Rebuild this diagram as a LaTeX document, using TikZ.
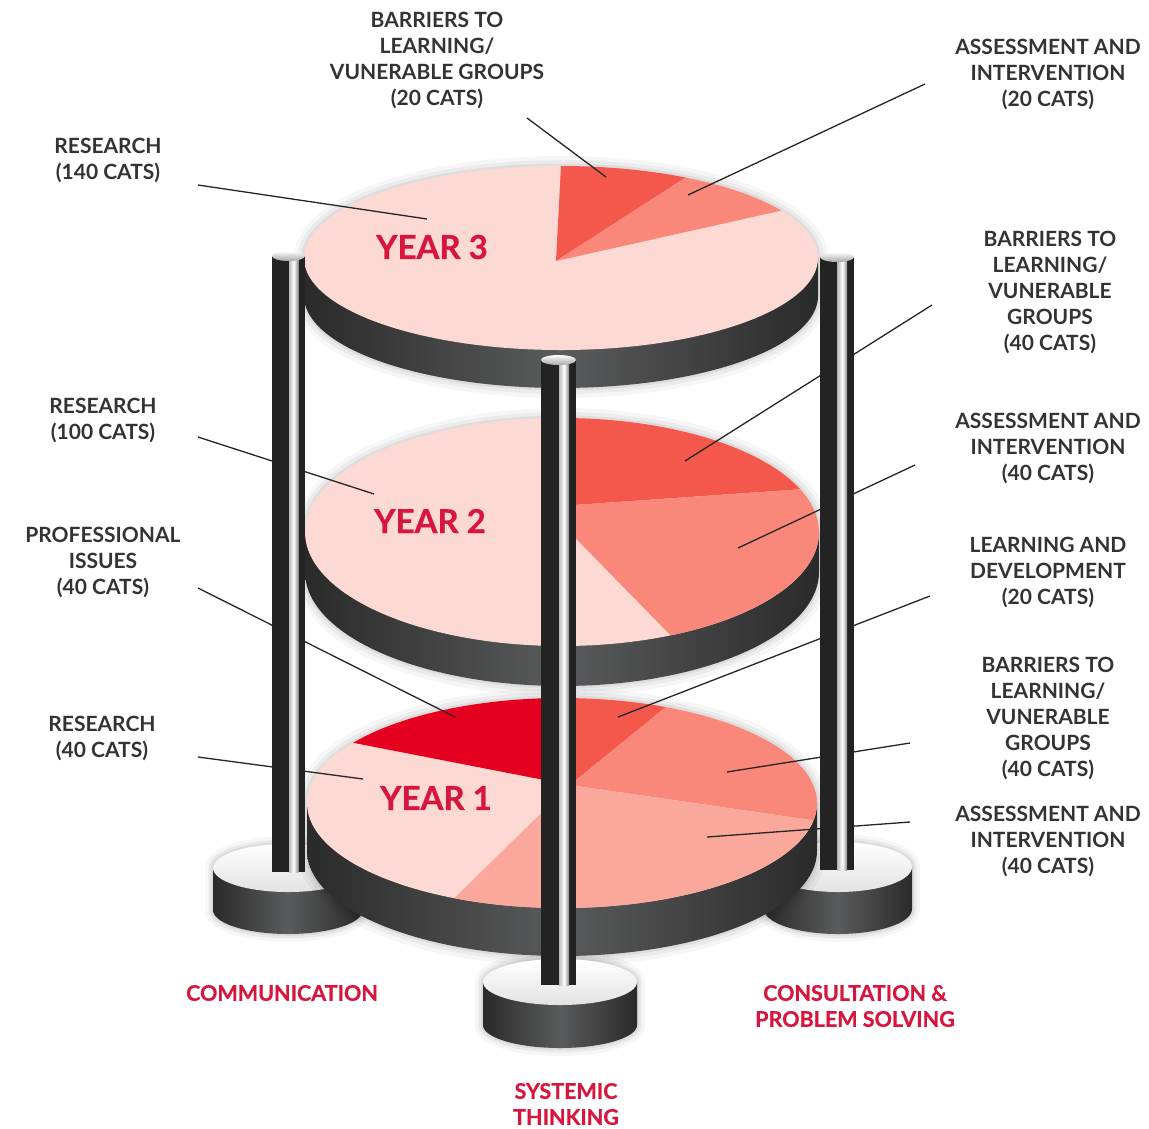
\documentclass[tikz,border=0pt]{standalone}
\usepackage{fontspec}
\setmainfont{Lato}
\usetikzlibrary{calc}
\definecolor{pinkL}{HTML}{FDD9D3}
\definecolor{redS}{HTML}{F4574B}
\definecolor{salmon}{HTML}{F9887A}
\definecolor{peach}{HTML}{FBA89C}
\definecolor{crimson}{HTML}{E5001F}
\definecolor{txtred}{HTML}{D8153C}
\definecolor{txtgray}{HTML}{333333}
\definecolor{bandD}{HTML}{2A2A2A}
\definecolor{bandM}{HTML}{5A5B5C}
\definecolor{pilD}{HTML}{232323}
% disc: cx cy rx ry thickness
\newcommand\mydisc[5]{%
  \foreach \w/\o in {20/0.035,12/0.045,5/0.06}{%
    \draw[line width=\w pt, black, opacity=\o, line join=round]
      plot[domain=0:180,samples=90] ({#1-#3*cos(\x)},{#2-#4*sin(\x)})
      -- plot[domain=0:180,samples=90] ({#1+#3*cos(\x)},{#2+#5+#4*sin(\x)}) -- cycle;}
  \shade[left color=bandD, right color=bandD, middle color=bandM]
    (#1-#3,#2) -- plot[domain=0:180,samples=90] ({#1-#3*cos(\x)},{#2+#5+#4*sin(\x)})
    -- (#1+#3,#2) -- cycle;
  \fill[pinkL] (#1,#2) ellipse[x radius=#3, y radius=#4];
}
% slice: colour cx cy rx ry apexx apexy t1 t2
\newcommand\myslice[9]{%
  \fill[#1] (#6,#7) -- plot[domain=#8:#9,samples=60] ({#2+#4*cos(\x)},{#3+#5*sin(\x)}) -- cycle;}
% base: cx cy rx ry h
\newcommand\mybase[5]{%
  \foreach \w/\o in {16/0.035,9/0.05,4/0.06}{%
    \draw[line width=\w pt, black, opacity=\o, line join=round]
      plot[domain=0:180,samples=60] ({#1-#3*cos(\x)},{#2-#4*sin(\x)})
      -- plot[domain=0:180,samples=60] ({#1+#3*cos(\x)},{#2+#5+#4*sin(\x)}) -- cycle;}
  \shade[left color=bandD, right color=bandD, middle color=bandM]
    (#1-#3,#2) -- plot[domain=0:180,samples=60] ({#1-#3*cos(\x)},{#2+#5+#4*sin(\x)})
    -- (#1+#3,#2) -- cycle;
  \shade[top color=white, bottom color=gray!22] (#1,#2) ellipse[x radius=#3, y radius=#4];
}
% pillar: x1 x2 top bottom
\newcommand\mypillar[4]{%
  \fill[pilD] (#1,#3) rectangle (#2,#4);
  \shade[left color=pilD!30, right color=pilD!55, middle color=white]
    ({#1+0.52*(#2-#1)},#3) rectangle ({#1+0.80*(#2-#1)},#4);
  \shade[top color=white, bottom color=gray!70] ({(#1+#2)/2},#3) ellipse[x radius={(#2-#1)/2}, y radius=5];
}
\tikzset{
  lab/.style={align=center, text=txtgray, font=\fontsize{21}{26}\selectfont\bfseries, inner sep=0pt},
  redlab/.style={align=center, text=txtred, font=\fontsize{21.5}{26}\selectfont\bfseries\addfontfeatures{FakeBold=0.6}, inner sep=0pt},
  yearlab/.style={text=txtred, font=\fontsize{33}{36}\selectfont\bfseries\addfontfeatures{FakeBold=0.6}, inner sep=0pt},
  leader/.style={draw=black!85, line width=1.3pt},
}
\begin{document}
\begin{tikzpicture}[x=1pt,y=-1pt]
\useasboundingbox[fill=white] (0,0) rectangle (1149,1128);

% side bases
\mybase{288}{868}{75}{24}{42}
\mybase{838}{867}{74}{25}{42}

% Year 3 disc
\mydisc{561}{258}{257}{92}{38}
\myslice{redS}{561}{258}{257}{92}{556}{261}{-90}{-61}
\myslice{salmon}{561}{258}{257}{92}{556}{261}{-61}{-31}
\node[yearlab] (y3) at (432,247) {YEAR 3};

% Year 2 disc
\mydisc{562}{532}{257}{114}{40}
\myslice{redS}{562}{532}{257}{114}{545}{507}{-90}{-22}
\myslice{salmon}{562}{532}{257}{114}{545}{507}{-22}{65}
\node[yearlab] (y2) at (430,521) {YEAR 2};

% Year 1 disc
\mydisc{562}{803}{255}{105}{48}
\myslice{crimson}{562}{803}{255}{105}{570}{785}{-145}{-92}
\myslice{redS}{562}{803}{255}{105}{570}{785}{-92}{-66}
\myslice{salmon}{562}{803}{255}{105}{570}{785}{-66}{9.5}
\myslice{peach}{562}{803}{255}{105}{570}{785}{9.5}{115}
\node[yearlab] (y1) at (436,798) {YEAR 1};

% leader line end points
\coordinate (r140s) at (198,185);  \coordinate (r140e) at (427,219);
\coordinate (b20s)  at (527,118);  \coordinate (b20e)  at (606,177);
\coordinate (a20s)  at (925,84);   \coordinate (a20e)  at (688,195);
\coordinate (r100s) at (198,437);  \coordinate (r100e) at (374,494);
\coordinate (p40s)  at (198,588);  \coordinate (p40e)  at (455,717);
\coordinate (r40s)  at (198,757);  \coordinate (r40e)  at (363,779);
\coordinate (b40as) at (932,305);  \coordinate (b40ae) at (685,461);
\coordinate (a40as) at (915,465);  \coordinate (a40ae) at (738,548);
\coordinate (l20s)  at (930,596);  \coordinate (l20e)  at (618,717);
\coordinate (b40bs) at (910,743);  \coordinate (b40be) at (727,772);
\coordinate (a40bs) at (910,822);  \coordinate (a40be) at (707,837);

\draw[leader] (r140s) -- (r140e);
\draw[leader] (b20s) -- (b20e);
\draw[leader] (a20s) -- (a20e);
\draw[leader] (r100s) -- (r100e);
\draw[leader] (p40s) -- (p40e);
\draw[leader] (r40s) -- (r40e);
\draw[leader] (b40as) -- (b40ae);
\draw[leader] (a40as) -- (a40ae);
\draw[leader] (l20s) -- (l20e);
\draw[leader] (b40bs) -- (b40be);
\draw[leader] (a40bs) -- (a40be);

% side pillars
\mypillar{272}{305}{256}{872}
\mypillar{820}{854}{257}{870}

% middle base and pillar
\mybase{560}{982}{77}{23}{43}
\mypillar{541}{576}{360}{985}

% labels
\node[lab] (tb20) at (437,60) {BARRIERS TO\\LEARNING/\\VUNERABLE GROUPS\\(20 CATS)};
\node[lab] (tr140) at (108,160) {RESEARCH\\(140 CATS)};
\node[lab] (ta20) at (1048,74) {ASSESSMENT AND\\INTERVENTION\\(20 CATS)};
\node[lab] (tb40a) at (1050,292) {BARRIERS TO\\LEARNING/\\VUNERABLE\\GROUPS\\(40 CATS)};
\node[lab] (tr100) at (103,420) {RESEARCH\\(100 CATS)};
\node[lab] (ta40a) at (1048,448) {ASSESSMENT AND\\INTERVENTION\\(40 CATS)};
\node[lab] (tp40) at (103,562) {PROFESSIONAL\\ISSUES\\(40 CATS)};
\node[lab] (tl20) at (1048,572) {LEARNING AND\\DEVELOPMENT\\(20 CATS)};
\node[lab] (tb40b) at (1048,718) {BARRIERS TO\\LEARNING/\\VUNERABLE\\GROUPS\\(40 CATS)};
\node[lab] (tr40) at (102,738) {RESEARCH\\(40 CATS)};
\node[lab] (ta40b) at (1048,841) {ASSESSMENT AND\\INTERVENTION\\(40 CATS)};

\node[redlab] (comm) at (282,993) {COMMUNICATION};
\node[redlab] (cps) at (855,1006) {CONSULTATION \&\\PROBLEM SOLVING};
\node[redlab] (syst) at (566,1104) {SYSTEMIC\\THINKING};
\end{tikzpicture}
\end{document}
